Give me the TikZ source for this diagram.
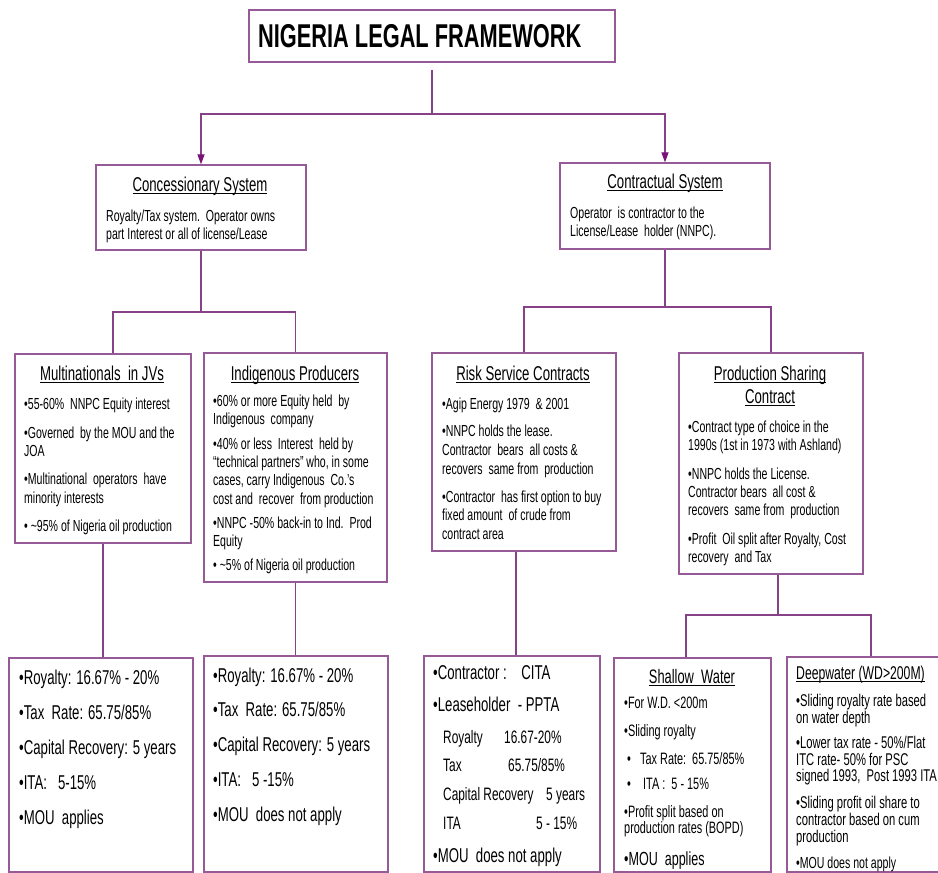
\documentclass[tikz,border=0pt]{standalone}
\usepackage{fontspec}
\setmainfont{Liberation Sans}[FakeStretch=0.66]
\usetikzlibrary{arrows.meta}
\definecolor{boxc}{RGB}{150,90,150}
\definecolor{linec}{RGB}{135,65,135}
\definecolor{arrowc}{RGB}{120,20,120}
\newcommand\fsz[1]{\fontsize{#1}{#1}\selectfont}
\newcommand\myul[1]{\setbox0\hbox{#1}\rlap{\vrule height -1.6pt depth 2.9pt width \wd0}\box0}
\tikzset{
  box/.style={draw=boxc, line width=1.3pt, fill=white, inner sep=0pt, rectangle},
  conn/.style={draw=linec, line width=1.2pt},
  arr/.style={-{Triangle[length=10pt,width=7pt,color=arrowc]}},
  body/.style={anchor=base west, inner sep=0pt, font=\fsz{16}},
  bigbody/.style={anchor=base west, inner sep=0pt, font=\fsz{20}},
  head/.style={anchor=base, inner sep=0pt, font=\fsz{20}},
}
\begin{document}
\begin{tikzpicture}[x=1pt,y=-1pt]
\useasboundingbox (0,0) rectangle (938,873);
\clip (0,0) rectangle (938,873);
\fill[white] (0,0) rectangle (938,873);
% boxes
\node[box, minimum width=366pt, minimum height=52pt] (title) at (432,36) {};
\node[box, minimum width=210pt, minimum height=85pt] (conc) at (201,207.5) {};
\node[box, minimum width=210pt, minimum height=86pt] (contr) at (665,206) {};
\node[box, minimum width=176pt, minimum height=189pt] (mnc) at (103,448.5) {};
\node[box, minimum width=183pt, minimum height=229pt] (indig) at (295.5,467.5) {};
\node[box, minimum width=184pt, minimum height=198pt] (risk) at (524,452) {};
\node[box, minimum width=184pt, minimum height=221pt] (psc) at (771,463.5) {};
\node[box, minimum width=184pt, minimum height=214pt] (mncA) at (101,765) {};
\node[box, minimum width=184pt, minimum height=216pt] (indB) at (296,764) {};
\node[box, minimum width=176pt, minimum height=216pt] (riskB) at (512,764) {};
\node[box, minimum width=157pt, minimum height=214pt] (shal) at (692.5,765) {};
\node[box, minimum width=168pt, minimum height=215pt] (deep) at (871,764.5) {};
% junctions
\coordinate (j0) at (432,114);
\coordinate (j1) at (201,312);
\coordinate (j2) at (665,307);
\coordinate (j3) at (778,615);
% connectors
\draw[conn, shorten <=7pt] (title.south) -- (j0);
\draw[conn,arr] (j0) -| (conc.north);
\draw[conn,arr] (j0) -| (contr.north);
\draw[conn] (conc.south) -- (j1);
\draw[conn] (j1) -| ([xshift=10pt]mnc.north);
\draw[conn] (j1) -| (indig.north);
\draw[conn] (contr.south) -- (j2);
\draw[conn] (j2) -| (risk.north);
\draw[conn] (j2) -| (psc.north);
\draw[conn] (mnc.south) -- (mnc.south |- mncA.north);
\draw[conn] (indig.south) -- (indig.south |- indB.north);
\draw[conn] ([xshift=-8pt]risk.south) -- ([xshift=4pt]riskB.north);
\draw[conn] ([xshift=7pt]psc.south) -- (j3);
\draw[conn] (j3) -| ([xshift=-6.5pt]shal.north);
\draw[conn] (j3) -| (deep.north);
% title
\node[anchor=base west, inner sep=0pt, font=\bfseries\fsz{33}] (ttl) at (258,47) {NIGERIA LEGAL FRAMEWORK};
% concessionary
\node[head] (concH) at (200,191) {\myul{Concessionary System}};
\foreach \yy/\txt [count=\i] in {221/{Royalty/Tax system.\ \ Operator owns}, 239/{part Interest or all of license/Lease}}
  \node[body] (concT\i) at (106,\yy) {\txt};
% contractual
\node[head] (contrH) at (665,188) {\myul{Contractual System}};
\foreach \yy/\txt [count=\i] in {218/{Operator\ \ is contractor to the}, 236/{License/Lease\ \ holder (NNPC).}}
  \node[body] (contrT\i) at (570,\yy) {\txt};
% multinationals
\node[head] (mncH) at (102,380) {\myul{Multinationals\ \ in JVs}};
\foreach \yy/\txt [count=\i] in {409/{•55-60\%\ \ NNPC Equity interest}, 438/{•Governed\ \ by the MOU and the}, 456/{JOA}, 484/{•Multinational\ \ operators\ \ have}, 503/{minority interests}, 531/{• \textasciitilde95\% of Nigeria oil production}}
  \node[body] (mncT\i) at (24,\yy) {\txt};
% indigenous
\node[head] (indH) at (295,380) {\myul{Indigenous Producers}};
\foreach \yy/\txt [count=\i] in {406/{•60\% or more Equity held\ \ by}, 424/{Indigenous\ \ company}, 449/{•40\% or less\ \ Interest\ \ held by}, 467/{“technical partners” who, in some}, 485/{cases, carry Indigenous\ \ Co.’s}, 504/{cost and\ \ recover\ \ from production}, 528/{•NNPC -50\% back-in to Ind.\ \ Prod}, 546/{Equity}, 570/{• \textasciitilde5\% of Nigeria oil production}}
  \node[body] (indT\i) at (213,\yy) {\txt};
% risk service
\node[head] (riskH) at (523,380) {\myul{Risk Service Contracts}};
\foreach \yy/\txt [count=\i] in {409/{•Agip Energy 1979\ \ \& 2001}, 436/{•NNPC holds the lease.}, 455/{Contractor\ \ bears\ \ all costs \&}, 474/{recovers\ \ same from\ \ production}, 502/{•Contractor\ \ has first option to buy}, 520/{fixed amount\ \ of crude from}, 539/{contract area}}
  \node[body] (riskT\i) at (442,\yy) {\txt};
% PSC
\node[head] (pscH1) at (770,380) {\myul{Production Sharing}};
\node[head] (pscH2) at (770,403) {\myul{Contract}};
\foreach \yy/\txt [count=\i] in {432/{•Contract type of choice in the}, 450/{1990s (1st in 1973 with Ashland)}, 479/{•NNPC holds the License.}, 497/{Contractor bears\ \ all cost \&}, 515/{recovers\ \ same from\ \ production}, 544/{•Profit\ \ Oil split after Royalty, Cost}, 562/{recovery\ \ and Tax}}
  \node[body] (pscT\i) at (688,\yy) {\txt};
% bottom A
\foreach \yy/\txt [count=\i] in {684/{•Royalty: 16.67\% - 20\%}, 719/{•Tax\ \ Rate: 65.75/85\%}, 754/{•Capital Recovery: 5 years}, 789/{•ITA:\ \ \ 5-15\%}, 824/{•MOU\ \ applies}}
  \node[bigbody] (aT\i) at (19,\yy) {\txt};
% bottom B
\foreach \yy/\txt [count=\i] in {682/{•Royalty: 16.67\% - 20\%}, 716/{•Tax\ \ Rate: 65.75/85\%}, 751/{•Capital Recovery: 5 years}, 786/{•ITA:\ \ \ 5 -15\%}, 821/{•MOU\ \ does not apply}}
  \node[bigbody] (bT\i) at (213,\yy) {\txt};
% bottom C
\node[bigbody] (cT1) at (433,679) {•Contractor :\ \ \ \ CITA};
\node[bigbody] (cT2) at (433,711) {•Leaseholder\ \ - PPTA};
\node[body, font=\fsz{18}] (cR1) at (443,743) {Royalty};
\node[body, font=\fsz{18}] (cV1) at (504,743) {16.67-20\%};
\node[body, font=\fsz{18}] (cR2) at (443,771) {Tax};
\node[body, font=\fsz{18}] (cV2) at (508,771) {65.75/85\%};
\node[body, font=\fsz{18}] (cR3) at (443,800) {Capital Recovery};
\node[body, font=\fsz{18}] (cV3) at (546,800) {5 years};
\node[body, font=\fsz{18}] (cR4) at (443,829) {ITA};
\node[body, font=\fsz{18}] (cV4) at (536,829) {5 - 15\%};
\node[bigbody] (cT3) at (433,862) {•MOU\ \ does not apply};
% shallow water
\node[head, font=\fsz{19.5}] (shalH) at (692,683) {\myul{Shallow\ \ Water}};
\node[body, font=\fsz{16.5}] (sT1) at (624,708) {•For W.D. <200m};
\node[body, font=\fsz{16.5}] (sT2) at (624,736) {•Sliding royalty};
\node[body, font=\fsz{16.5}] (sB3) at (627,764) {•};
\node[body, font=\fsz{16.5}] (sT3) at (640,764) {Tax Rate:\ \ 65.75/85\%};
\node[body, font=\fsz{16.5}] (sB4) at (627,789) {•};
\node[body, font=\fsz{16.5}] (sT4) at (643,789) {ITA :\ \ 5 - 15\%};
\node[body, font=\fsz{16.5}] (sT5) at (624,817) {•Profit split based on};
\node[body, font=\fsz{16.5}] (sT6) at (624,833) {production rates (BOPD)};
\node[body, font=\fsz{19}] (sT7) at (624,865) {•MOU\ \ applies};
% deepwater
\node[body, font=\fsz{18.5}] (deepH) at (796,679) {\myul{Deepwater (WD>200M)}};
\foreach \yy/\txt [count=\i] in {706/{•Sliding royalty rate based}, 723/{on water depth}, 748/{•Lower tax rate - 50\%/Flat}, 765/{ITC rate- 50\% for PSC}, 781/{signed 1993,\ \ Post 1993 ITA}, 808/{•Sliding profit oil share to}, 825/{contractor based on cum}, 842/{production}}
  \node[body, font=\fsz{17}] (dT\i) at (796,\yy) {\txt};
\node[body] (dT9) at (796,868) {•MOU does not apply};
\end{tikzpicture}
\end{document}
